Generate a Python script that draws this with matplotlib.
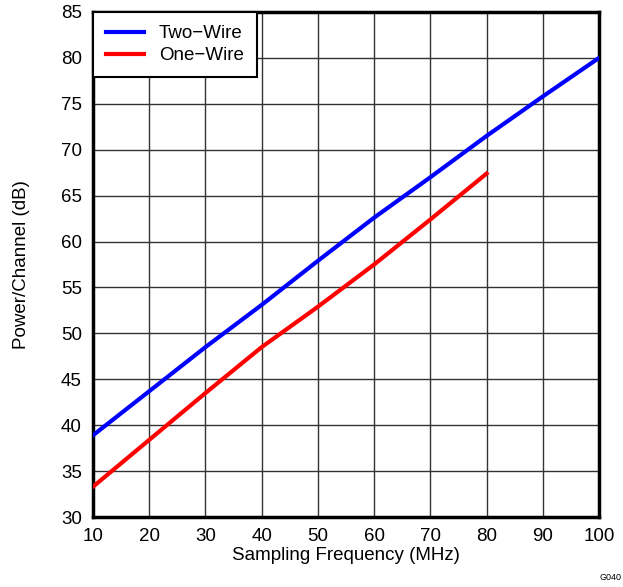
import matplotlib
matplotlib.use("Agg")
import matplotlib.pyplot as plt

plt.rcParams['font.family'] = ['Liberation Sans', 'DejaVu Sans']

freq_two = [10, 20, 30, 40, 50, 60, 70, 80, 90, 100]
power_two = [38.9, 43.7, 48.5, 53.1, 57.9, 62.6, 67.0, 71.5, 75.8, 80.0]
freq_one = [10, 20, 30, 40, 50, 60, 70, 80]
power_one = [33.3, 38.4, 43.5, 48.5, 52.9, 57.5, 62.4, 67.4]
xticks = [10, 20, 30, 40, 50, 60, 70, 80, 90, 100]
yticks = [30, 35, 40, 45, 50, 55, 60, 65, 70, 75, 80, 85]

fig = plt.figure(figsize=(6.23, 5.87), dpi=100)
ax = fig.add_axes([93/623, 1 - 517/587, (599-93)/623, (517-12)/587])

ax.plot(freq_two, power_two, color='#0000ff', lw=3, label='Two\u2212Wire', zorder=3)
ax.plot(freq_one, power_one, color='#ff0000', lw=3, label='One\u2212Wire', zorder=3)

ax.set_xlim(10, 100)
ax.set_ylim(30, 85)
ax.set_xticks(xticks)
ax.set_yticks(yticks)
ax.grid(True, color='#333333', lw=1)
ax.tick_params(axis='x', length=0, labelsize=13.5, pad=8)
ax.tick_params(axis='y', length=0, labelsize=13.5, pad=8)
for s in ax.spines.values():
    s.set_linewidth(2.5)
    s.set_color('black')

ax.set_xlabel('Sampling Frequency (MHz)', fontsize=13.5, labelpad=1)
ax.set_ylabel('Power/Channel (dB)', fontsize=13.5, labelpad=22)

leg = ax.legend(loc='upper left', fontsize=13.5, fancybox=False, framealpha=1,
                edgecolor='black', borderaxespad=0, handlelength=2.0,
                borderpad=0.7, labelspacing=0.25)
leg.get_frame().set_linewidth(1.5)

fig.text(622/623, 1 - 578/587, 'G040', fontsize=6.5, ha='right', va='center')

fig.savefig('out.png', dpi=100)
